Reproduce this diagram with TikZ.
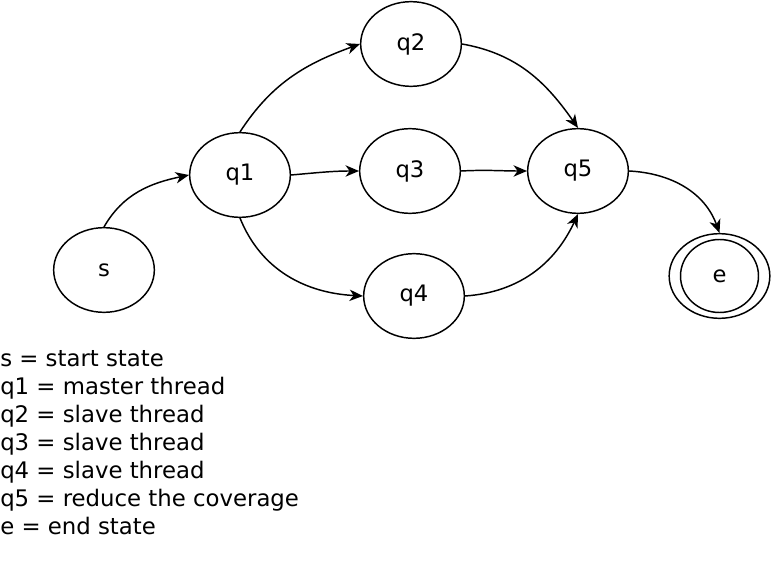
\documentclass[tikz,border=0pt]{standalone}
\usepackage{fontspec}
\setmainfont{DejaVu Sans}
\usetikzlibrary{arrows.meta,shapes.geometric}

\begin{document}
\begin{tikzpicture}[line cap=round,line join=round,>={Stealth[length=10pt,width=8.5pt,inset=3pt]},x=0.75pt,y=0.75pt,
    state/.style={draw,ellipse,line width=1.1pt,minimum width=75.5pt,minimum height=63.5pt,inner sep=0pt,font=\fontsize{17}{20}\selectfont},
    edge/.style={->,line width=1.1pt}]
    \useasboundingbox (0,0) rectangle (771,-570);
    % states
    \node[state] (s) at (104,-270) {s};
    \node[state] (q1) at (240,-175) {q1};
    \node[state] (q2) at (411,-44) {q2};
    \node[state] (q3) at (410,-171) {q3};
    \node[state] (q4) at (414,-296) {q4};
    \node[state] (q5) at (578,-171) {q5};
    \node[state] (e) at (719.5,-276) {e};
    \draw [line width=1.1pt] (e.center) ellipse (39 and 36.5);
    % transitions
    \draw [edge] (s.north) to[out=60,in=192] (q1.west);
    \draw [edge] (q1.north) to[out=57,in=200] (q2.west);
    \draw [edge] (q1.east) to[out=5,in=180] (q3.west);
    \draw [edge] (q1.south) to[out=-68,in=177] (q4.west);
    \draw [edge] (q2.east) to[out=-10,in=125] (q5.north);
    \draw [edge] (q3.east) to[out=3,in=180] (q5.west);
    \draw [edge] (q4.east) to[out=4,in=-115] (q5.south);
    \draw [edge] (q5.east) to[out=-3,in=110] (e.north);
    % legend
    \node[anchor=north west,align=left,inner sep=0pt,font=\fontsize{17.1}{21}\selectfont] (legend) at (0,-350)
        {s = start state\\q1 = master thread\\q2 = slave thread\\q3 = slave thread\\q4 = slave thread\\q5 = reduce the coverage\\e = end state};
\end{tikzpicture}
\end{document}
